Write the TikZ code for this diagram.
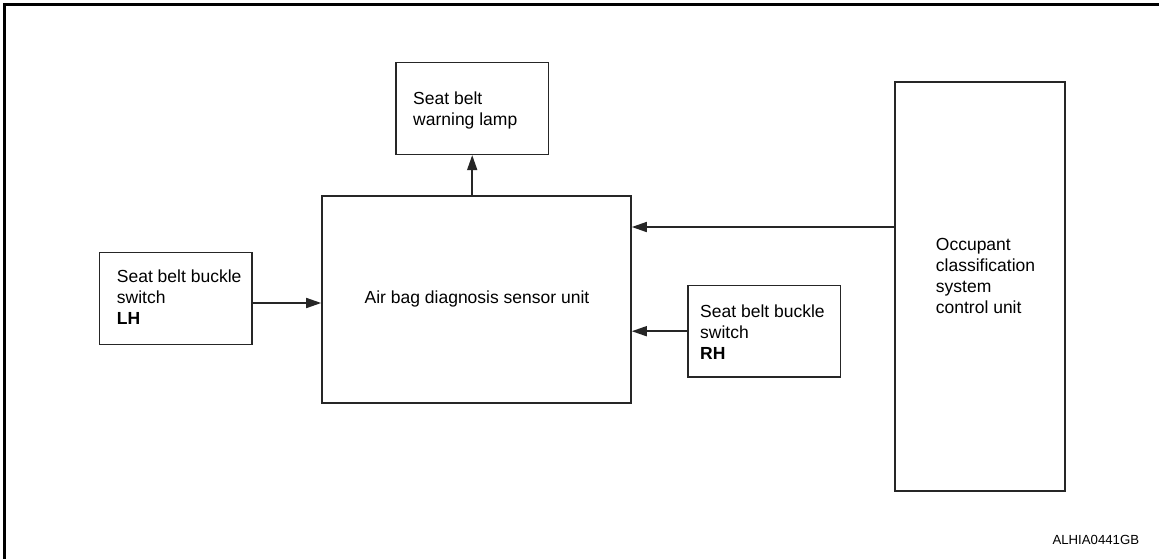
\documentclass[tikz,border=0pt]{standalone}
\usepackage{fontspec}
\setmainfont{Liberation Sans}
\usetikzlibrary{arrows.meta,calc}
\begin{document}
\begin{tikzpicture}[x=1pt,y=-1pt,
  box/.style={draw=black!85,line width=1.6pt,inner sep=0pt,minimum width=#1},
  lbl/.style={anchor=base west,inner sep=0pt,align=left,font=\fontsize{17.5}{21}\selectfont},
  arr/.style={draw=black!85,line width=1.6pt,-{Triangle[length=15pt,width=10pt]}}]
\useasboundingbox (0,0) rectangle (1159,558);
\fill[white] (0,0) rectangle (1159,558);
% frame
\draw[line width=3pt] (4.5,570) -- (4.5,4.5) -- (1170,4.5);
% boxes
\node[box=152.3pt,minimum height=92pt] (lamp) at (472.2,108.3) {};
\node[box=309pt,minimum height=207pt] (main) at (476.5,299.5) {};
\node[box=152.4pt,minimum height=92pt] (lh) at (175.5,298.3) {};
\node[box=152.6pt,minimum height=91.7pt] (rh) at (764,331.2) {};
\node[box=170pt,minimum height=409pt] (ocs) at (980,286.5) {};
% texts (anchored at the baseline of the last line)
\node[lbl] (lampT) at (413,125) {Seat belt\\warning lamp};
\node[lbl,anchor=base] (mainT) at (477,303) {Air bag diagnosis sensor unit};
\node[lbl] (lhT) at (116.7,324.7) {Seat belt buckle\\switch\\\textbf{LH}};
\node[lbl] (rhT) at (700,359) {Seat belt buckle\\switch\\\textbf{RH}};
\node[lbl] (ocsT) at (935.7,313.5) {Occupant\\classification\\system\\control unit};
\node[anchor=base east,inner sep=0pt,font=\fontsize{13.2}{15}\selectfont] (code) at (1139.3,544) {ALHIA0441GB};
% connectors
\draw[arr] (lamp.south |- main.north) -- (lamp.south);
\draw[arr] ([yshift=-4.7pt]lh.east) -- ([yshift=-4.7pt]lh.east -| main.west);
\draw[arr] ([yshift=59.5pt]ocs.west) -- ([yshift=59.5pt]ocs.west -| main.east);
\draw[arr] (rh.west) -- (rh.west -| main.east);
\end{tikzpicture}
\end{document}
